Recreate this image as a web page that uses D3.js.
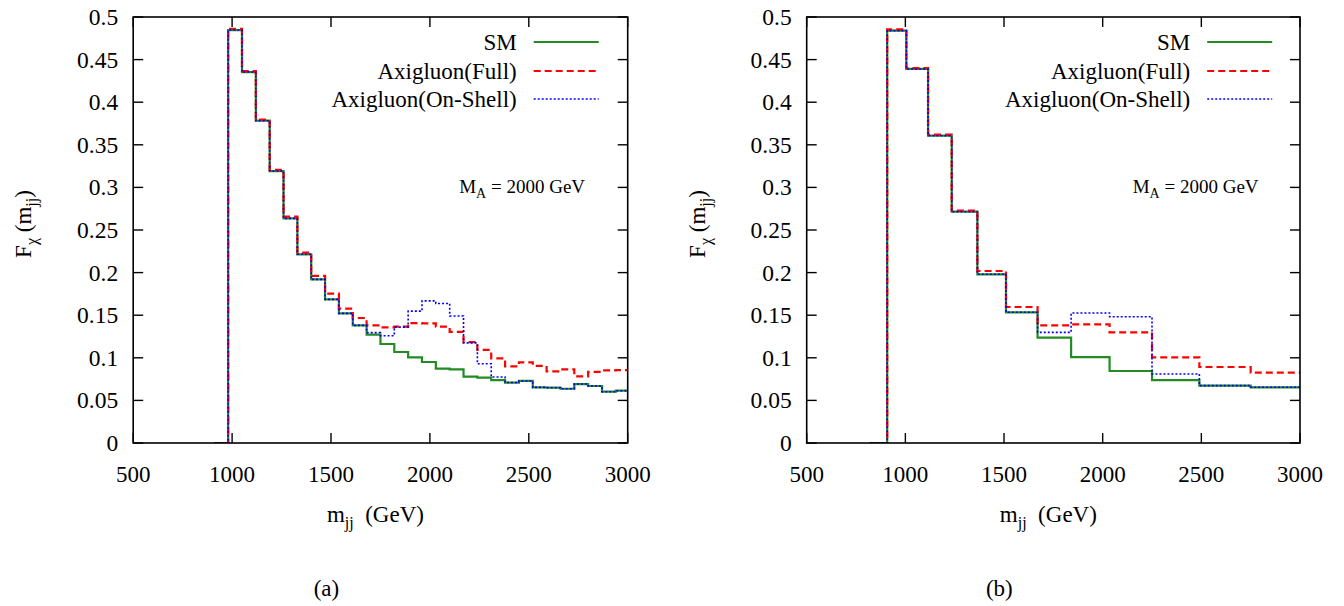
<!DOCTYPE html>
<html><head><meta charset="utf-8">
<script src="https://cdn.jsdelivr.net/npm/d3@7"></script>
<style>
body{margin:0;background:#fff;}
</style></head>
<body><svg id="c" width="1344" height="606"></svg>
<script>
// ---- data ----
const seriesNames = ["SM", "Axigluon(Full)", "Axigluon(On-Shell)"];
const xTicks = [500, 1000, 1500, 2000, 2500, 3000];
const yTicks = [0, 0.05, 0.1, 0.15, 0.2, 0.25, 0.3, 0.35, 0.4, 0.45, 0.5];
const yTickLabels = ["0", "0.05", "0.1", "0.15", "0.2", "0.25", "0.3", "0.35", "0.4", "0.45", "0.5"];

// panel (a): bin edges (GeV)
const edgesA = [910, 980, 1050, 1120, 1190, 1260, 1330, 1400, 1470, 1540, 1610, 1680, 1750, 1820, 1890,
  1960, 2030, 2100, 2170, 2240, 2310, 2380, 2450, 2520, 2590, 2660, 2730, 2800, 2870, 2940, 3010];
const smA = [0, 0.4847, 0.4354, 0.3783, 0.3192, 0.2637, 0.2215, 0.1921, 0.1686, 0.1522, 0.1380, 0.1271, 0.1162,
  0.1068, 0.1006, 0.0951, 0.0872, 0.0865, 0.0778, 0.0767, 0.0739, 0.0708, 0.0728, 0.0653, 0.0649, 0.0637,
  0.0692, 0.0669, 0.0602, 0.0614];
const fullA = [0, 0.4862, 0.4365, 0.3795, 0.3205, 0.2656, 0.2234, 0.1962, 0.1753, 0.1577, 0.1467, 0.1381, 0.1358,
  0.1365, 0.1406, 0.1405, 0.1365, 0.1305, 0.1185, 0.1092, 0.0994, 0.0900, 0.0947, 0.0905, 0.0841, 0.0865,
  0.0782, 0.0835, 0.0853, 0.0855];
const onShellA = [0, 0.4847, 0.4354, 0.3783, 0.3192, 0.2637, 0.2215, 0.1921, 0.1686, 0.1522, 0.1380, 0.1295, 0.1258,
  0.1360, 0.1548, 0.1668, 0.1638, 0.1491, 0.1175, 0.0930, 0.0775, 0.0710, 0.0728, 0.0653, 0.0649, 0.0637,
  0.0692, 0.0669, 0.0602, 0.0614];

// panel (b): bin edges (GeV)
const edgesB = [820, 908, 1005, 1115, 1235, 1365, 1510, 1670, 1840, 2035, 2250, 2490, 2750, 3040];
const smB = [0, 0.4840, 0.4390, 0.3607, 0.2715, 0.1980, 0.1534, 0.1236, 0.1009, 0.0845, 0.0739, 0.0673, 0.0654];
const fullB = [0, 0.4855, 0.4400, 0.3620, 0.2727, 0.2019, 0.1596, 0.1381, 0.1393, 0.1299, 0.1006, 0.0892, 0.0825];
const onShellB = [0, 0.4840, 0.4390, 0.3607, 0.2715, 0.1980, 0.1534, 0.1299, 0.1526, 0.1482, 0.0810, 0.0673, 0.0654];

// ---- drawing ----
const svg = d3.select("#c");
const styles = [
  {color: "#228b22", width: 2.2, dash: null},
  {color: "#ff0000", width: 2.2, dash: "7,4"},
  {color: "#0000ff", width: 1.6, dash: "2,2"}
];

function txt(g, fs) {
  return g.append("text").style("font-family", '"Liberation Serif"').attr("font-size", fs).attr("fill", "#000");
}

function panel(id, x0, x1, edges, series, caption) {
  const top = 17, bottom = 443;
  const x = d3.scaleLinear().domain([500, 3000]).range([x0, x1]);
  const y = d3.scaleLinear().domain([0, 0.5]).range([bottom, top]);
  const g = svg.append("g");
  const clipId = "clip" + id;
  svg.append("clipPath").attr("id", clipId).append("rect")
    .attr("x", x0).attr("y", top - 5).attr("width", x1 - x0).attr("height", bottom - top + 5);

  const line = d3.line().x(d => x(d[0])).y(d => y(d[1])).curve(d3.curveStepAfter);
  series.forEach((vals, k) => {
    const pts = edges.map((e, i) => [e, vals[Math.min(i, vals.length - 1)]]);
    const p = g.append("path").attr("d", line(pts)).attr("fill", "none")
      .attr("stroke", styles[k].color).attr("stroke-width", styles[k].width)
      .attr("clip-path", `url(#${clipId})`);
    if (styles[k].dash) p.attr("stroke-dasharray", styles[k].dash);
  });

  // frame
  g.append("rect").attr("x", x0).attr("y", top).attr("width", x1 - x0).attr("height", bottom - top)
    .attr("fill", "none").attr("stroke", "#000").attr("stroke-width", 1.6);
  const tl = 10;
  xTicks.forEach(t => {
    g.append("line").attr("x1", x(t)).attr("x2", x(t)).attr("y1", bottom).attr("y2", bottom - tl).attr("stroke", "#000").attr("stroke-width", 1.4);
    g.append("line").attr("x1", x(t)).attr("x2", x(t)).attr("y1", top).attr("y2", top + tl).attr("stroke", "#000").attr("stroke-width", 1.4);
    txt(g, 23).attr("x", x(t)).attr("y", 482).attr("text-anchor", "middle").text(t);
  });
  yTicks.forEach((t, i) => {
    g.append("line").attr("x1", x0).attr("x2", x0 + tl).attr("y1", y(t)).attr("y2", y(t)).attr("stroke", "#000").attr("stroke-width", 1.4);
    g.append("line").attr("x1", x1).attr("x2", x1 - tl).attr("y1", y(t)).attr("y2", y(t)).attr("stroke", "#000").attr("stroke-width", 1.4);
    txt(g, 23.5).attr("x", x0 - 15).attr("y", y(t) + 8).attr("text-anchor", "end").text(yTickLabels[i]);
  });

  // axis titles
  const xt = txt(g, 23).attr("x", (x0 + x1) / 2 - 5).attr("y", 522).attr("text-anchor", "middle");
  xt.append("tspan").text("m");
  xt.append("tspan").attr("dy", 6).attr("font-size", 16).text("jj");
  xt.append("tspan").attr("dy", -6).text("\u00a0 (GeV)");

  const yt = txt(g, 23).attr("transform", `translate(${x0 - 102},224) rotate(-90)`)
    .attr("text-anchor", "middle");
  yt.append("tspan").text("F");
  yt.append("tspan").attr("dy", 6).attr("font-size", 16).text("\u03c7");
  yt.append("tspan").attr("dy", -6).text(" (m");
  yt.append("tspan").attr("dy", 6).attr("font-size", 16).text("jj");
  yt.append("tspan").attr("dy", -6).text(")");

  // legend
  const lx = x0 + 383.5, ly = [42, 71, 99];
  seriesNames.forEach((n, k) => {
    txt(g, 23).attr("x", lx).attr("y", ly[k] + 8).attr("text-anchor", "end").text(n);
    const l = g.append("line").attr("x1", lx + 17).attr("x2", lx + 82).attr("y1", ly[k]).attr("y2", ly[k])
      .attr("stroke", styles[k].color).attr("stroke-width", styles[k].width);
    if (styles[k].dash) l.attr("stroke-dasharray", styles[k].dash);
  });

  // annotation
  const an = txt(g, 19).attr("x", x0 + 326).attr("y", 193);
  an.append("tspan").text("M");
  an.append("tspan").attr("dy", 5).attr("font-size", 14).text("A");
  an.append("tspan").attr("dy", -5).text(" = 2000 GeV");

  // caption
  txt(g, 23).attr("x", (x0 + x1) / 2 - 54).attr("y", 596).attr("text-anchor", "middle").text(caption);
}

panel("a", 133.2, 627.7, edgesA, [smA, fullA, onShellA], "(a)");
panel("b", 806.7, 1300, edgesB, [smB, fullB, onShellB], "(b)");
</script></body></html>
